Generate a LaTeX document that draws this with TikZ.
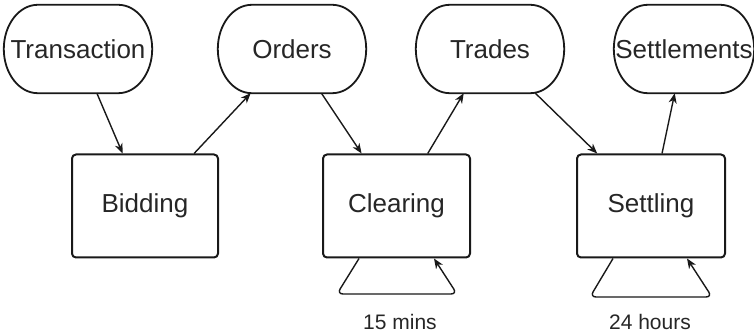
\documentclass[tikz,border=0pt]{standalone}
\usepackage{fontspec}
\setmainfont{Liberation Sans}
\usetikzlibrary{arrows.meta}

\tikzset{
  store/.style={minimum width=148pt, minimum height=88pt, inner sep=0pt,
    font=\fontsize{26}{30}\selectfont, text=black!85},
  storeline/.style={draw=black!90, line width=1.8pt},
  process/.style={draw=black!90, line width=2pt, rounded corners=4pt,
    minimum width=146pt, minimum height=103pt, inner sep=0pt,
    font=\fontsize{26}{30}\selectfont, text=black!85},
  flow/.style={draw=black!90, line width=1.4pt,
    -{Stealth[length=10pt,width=8pt,inset=3pt]}},
  cycle/.style={flow, rounded corners=6pt},
  period/.style={font=\fontsize{21}{25}\selectfont, text=black!85, inner sep=0pt}
}

% outline of a data store: straight top and bottom, half-elliptic ends
% (end radius 34pt across, 44pt up and down)
\newcommand\storeoutline[1]{%
  \draw[storeline] ([xshift=34pt]#1.north west) -- ([xshift=-34pt]#1.north east)
    .. controls ([xshift=-15.2pt]#1.north east) and ([yshift=24.3pt]#1.east) .. (#1.east)
    .. controls ([yshift=-24.3pt]#1.east) and ([xshift=-15.2pt]#1.south east) .. ([xshift=-34pt]#1.south east)
    -- ([xshift=34pt]#1.south west)
    .. controls ([xshift=15.2pt]#1.south west) and ([yshift=-24.3pt]#1.west) .. (#1.west)
    .. controls ([yshift=24.3pt]#1.west) and ([xshift=15.2pt]#1.north west) .. cycle;}

\begin{document}
\begin{tikzpicture}[x=1pt,y=-1pt]
  \useasboundingbox (0,0) rectangle (754,336);

  % data stores
  \node[store] (trans) at (78,49) {Transaction};
  \node[store] (orders) at (292,49) {Orders};
  \node[store] (trades) at (490,49) {Trades};
  \node[store, minimum width=140pt] (settle) at (684,49) {Settlements};
  \storeoutline{trans}
  \storeoutline{orders}
  \storeoutline{trades}
  \storeoutline{settle}

  % processes
  \node[process] (bid) at (145,206) {Bidding};
  \node[process, minimum width=147pt] (clear) at (396.5,206) {Clearing};
  \node[process, minimum width=148pt] (sett) at (651,206) {Settling};

  % data flow between stores and processes
  \draw[flow] (trans) -- (bid);
  \draw[flow] (bid) -- (orders);
  \draw[flow] (orders) -- (clear);
  \draw[flow] (clear) -- (trades);
  \draw[flow] (trades) -- (sett);
  \draw[flow] (sett) -- (settle);

  % periodic cycles
  \coordinate (c1) at (337,294);
  \coordinate (c2) at (457,294);
  \draw[cycle] ([xshift=37pt]clear.south west) -- (c1) -- (c2) -- ([xshift=112pt]clear.south west);
  \node[period] (t1) at (400,322) {15 mins};

  \coordinate (s1) at (590,297);
  \coordinate (s2) at (712,297);
  \draw[cycle] ([xshift=37pt]sett.south west) -- (s1) -- (s2) -- ([xshift=111pt]sett.south west);
  \node[period] (t2) at (650,322) {24 hours};
\end{tikzpicture}
\end{document}
